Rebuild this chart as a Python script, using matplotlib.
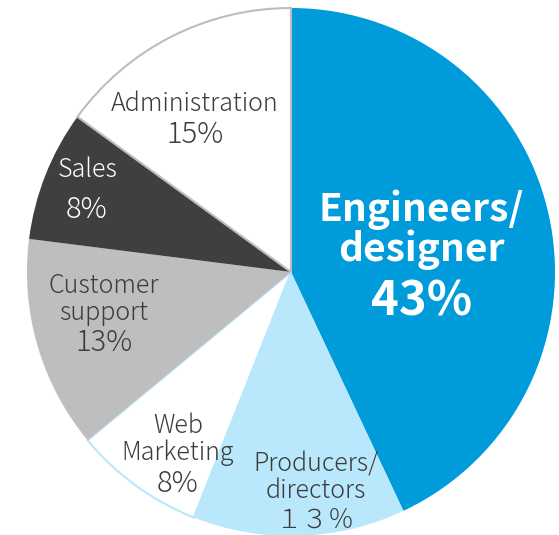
import matplotlib.pyplot as plt

plt.rcParams['font.family'] = ['Noto Sans CJK JP', 'DejaVu Sans']

# Share of staff by role, clockwise from 12 o'clock
roles = ['Engineers/\ndesigner', 'Producers/\ndirectors', 'Web\nMarketing',
         'Customer\nsupport', 'Sales', 'Administration']
shares = [43, 13, 8, 13, 8, 15]
pct_labels = ['43%', '１３％', '8%', '13%', '8%', '15%']
colors = ['#009bdb', '#b9e7fb', '#ffffff', '#bebebe', '#3f3f3f', '#ffffff']
edge_colors = ['none', 'none', '#b9e7fb', 'none', 'none', '#bdbdbd']

W, H = 559, 535
fig = plt.figure(figsize=(W / 100, H / 100), dpi=100)
ax = fig.add_axes([0, 0, 1, 1])

cx, cy, r = 291, H - 272, 264
wedges, _ = ax.pie(shares, colors=colors, startangle=90, counterclock=False,
                   center=(cx, cy), radius=r, frame=True)
for w, ec in zip(wedges, edge_colors):
    w.set_edgecolor(ec)
    w.set_linewidth(1.5)
ax.set_xlim(0, W)
ax.set_ylim(0, H)
ax.set_aspect('equal')
ax.axis('off')

# label anchor points in pixel space (x, y from top) for each role
name_pos = [(421, 230), (316, 477), (178, 439), (104, 299), (88, 170), (195, 104)]
pct_pos = [(422, 302), (315, 520), (178, 484), (104, 343), (87, 210), (195, 135)]
text_col = ['white', '#3c3c3c', '#3c3c3c', '#3c3c3c', 'white', '#3c3c3c']
pct_size = [34, 19, 21, 21, 21, 21]

for i, role in enumerate(roles):
    big = i == 0
    ax.text(name_pos[i][0], H - name_pos[i][1], role, ha='center', va='center',
            color=text_col[i], fontsize=28 if big else 18,
            fontweight='bold' if big else 'light', linespacing=1.0)
    ax.text(pct_pos[i][0], H - pct_pos[i][1], pct_labels[i], ha='center',
            va='center', color=text_col[i], fontsize=pct_size[i],
            fontweight='bold' if big else 'light')

fig.savefig('out.png', dpi=100)
